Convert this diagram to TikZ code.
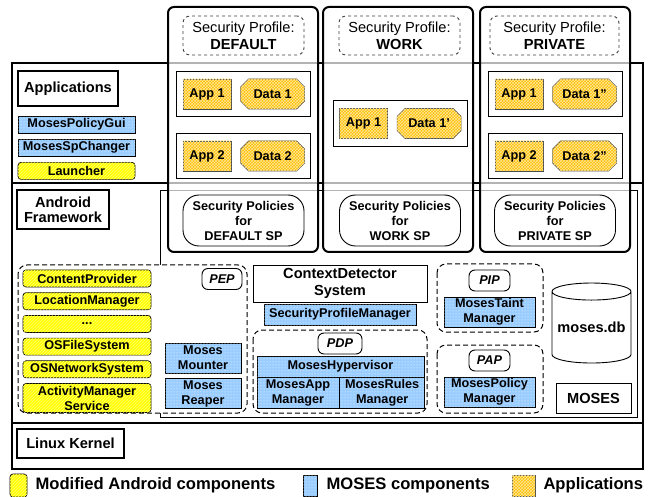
\documentclass[tikz,border=0pt]{standalone}
\usepackage{fontspec}
\setmainfont{Liberation Sans}
\usetikzlibrary{positioning, fit, chains, patterns, shapes.misc, shapes.geometric}
\definecolor{modyellow}{RGB}{255,255,0}
\definecolor{mosblue}{RGB}{153,204,255}
\definecolor{appgold}{RGB}{255,192,0}

\begin{document}
\begin{tikzpicture}[x=1pt,y=-1pt,
  small/.style={font=\fontsize{12.7}{15}\selectfont\bfseries},
  big/.style={font=\fontsize{14.6}{17}\selectfont\bfseries},
  legend/.style={font=\fontsize{16.6}{20}\selectfont\bfseries, anchor=west, inner sep=0pt},
  layer/.style={draw, line width=2.5pt},
  title/.style={draw, line width=2.5pt, big, align=center, inner sep=0pt},
  profile/.style={draw, line width=2pt, rounded corners=6pt, fill=white, fill opacity=0.7},
  spname/.style={draw=black!75, dashed, line width=0.9pt, rounded corners=7pt, minimum width=121, minimum height=39,
    align=center, font=\fontsize{14.6}{17}\selectfont, inner sep=0pt},
  policy/.style={draw, line width=0.9pt, rounded corners=16pt, minimum width=121, minimum height=51, small, align=center, inner sep=0pt},
  row/.style={draw, line width=0.9pt, inner xsep=6pt, inner ysep=7.5pt},
  app/.style={draw=black!70, line width=0.6pt, fill=appgold, postaction={pattern=crosshatch, pattern color=white!60!appgold},
    small, minimum width=48, minimum height=30, inner sep=0pt},
  data/.style={app, chamfered rectangle, chamfered rectangle xsep=10pt, minimum width=64},
  mod/.style={draw, line width=0.7pt, rounded corners=3pt, fill=modyellow, postaction={pattern=north east lines, pattern color=white!45!modyellow},
    small, minimum width=128, minimum height=17, inner sep=0pt, align=center},
  mos/.style={draw, line width=0.7pt, fill=mosblue, postaction={pattern=dots, pattern color=white}, small, inner sep=0pt, align=center},
  group/.style={draw, dash pattern=on 5pt off 3pt, line width=1pt, rounded corners=9pt, fill=white},
  tag/.style={draw, line width=0.9pt, rounded corners=6pt, font=\fontsize{12.7}{15}\selectfont\bfseries\itshape, minimum height=21, inner sep=0pt},
  plain/.style={draw, line width=0.9pt, big, align=center, inner sep=0pt},
]
\useasboundingbox (0,0) rectangle (659,497);

% layers
\draw[layer] (12,63) rectangle (643,183);
\draw[layer] (12,183) rectangle (643,423);
\draw[layer] (12,423) rectangle (643,469);
\draw[line width=0.8pt] (160,190) rectangle (637,417);

% security profiles
\draw[profile] (168,7) rectangle (318,252);
\draw[profile] (323,7) rectangle (473,252);
\draw[profile] (480,7) rectangle (630,252);

\node (spdef)  [spname] at (243.5,35.5) {Security Profile:\\\textbf{DEFAULT}};
\node (spwork) [spname] at (399.5,35.5) {Security Profile:\\\textbf{WORK}};
\node (sppriv) [spname, minimum width=129] at (554.5,35.5) {Security Profile:\\\textbf{PRIVATE}};

\node (appd1) [app] at (207,94) {App 1};
\node (datad1) [data, right=9pt of appd1] {Data 1};
\node (rowd1) [row, fit=(appd1)(datad1)] {};
\node (appd2) [app] at (207,156) {App 2};
\node (datad2) [data, right=9pt of appd2] {Data 2};
\node (rowd2) [row, fit=(appd2)(datad2)] {};

\node (appw1) [app] at (363.5,123.5) {App 1};
\node (dataw1) [data, right=9pt of appw1] {Data 1'};
\node (roww1) [row, fit=(appw1)(dataw1)] {};

\node (appp1) [app] at (519,94) {App 1};
\node (datap1) [data, right=9pt of appp1] {Data 1''};
\node (rowp1) [row, fit=(appp1)(datap1)] {};
\node (appp2) [app] at (519,156) {App 2};
\node (datap2) [data, right=9pt of appp2] {Data 2''};
\node (rowp2) [row, fit=(appp2)(datap2)] {};

\node (poldef)  [policy] at (243.5,220.5) {Security Policies\\for\\DEFAULT SP};
\node (polwork) [policy] at (400,220.5)   {Security Policies\\for\\WORK SP};
\node (polpriv) [policy] at (555,220.5)   {Security Policies\\for\\PRIVATE SP};

% layer titles
\node (applications) [title, minimum width=100, minimum height=35] at (68,88.5) {Applications};
\node (framework) [title, minimum width=92, minimum height=39] at (63,209.5) {Android\\[-2pt]Framework};
\node (kernel) [title, minimum width=107, minimum height=29] at (70.5,443.5) {Linux Kernel};

\begin{scope}[start chain=apps going below, node distance=5.5pt]
\node (policygui) [mos, on chain, minimum width=117, minimum height=17] at (76.5,124.5) {MosesPolicyGui};
\node (spchanger) [mos, on chain, minimum width=117, minimum height=17] {MosesSpChanger};
\node (launcher)  [mod, on chain, minimum width=117] {Launcher};
\end{scope}

% PEP
\draw[group] (18,265) rectangle (247,413);
\node (pep) [tag, minimum width=40] at (222,279) {PEP};
\begin{scope}[start chain=mods going below, node distance=5pt]
\node (content)  [mod, on chain] at (87,278.5) {ContentProvider};
\node (location) [mod, on chain] {LocationManager};
\node (dots)     [mod, on chain] {...};
\node (osfile)   [mod, on chain] {OSFileSystem};
\node (osnet)    [mod, on chain] {OSNetworkSystem};
\node (activity) [mod, on chain, minimum height=29] {ActivityManager\\Service};
\end{scope}
\node (mounter) [mos, minimum width=76, minimum height=30] at (203,358) {Moses\\Mounter};
\node (reaper)  [mos, minimum width=76, minimum height=30, below=5pt of mounter] {Moses\\Reaper};

% context detector and PDP
\node (context) [plain, minimum width=174, minimum height=37] at (340,283.5) {ContextDetector\\System};
\node (spmanager) [mos, minimum width=152, minimum height=21] at (340,314.5) {SecurityProfileManager};
\draw[group] (253,330) rectangle (427,413);
\node (pdp) [tag, minimum width=44] at (340,343.5) {PDP};
\node (hypervisor) [mos, minimum width=167, minimum height=21] at (340.5,366.5) {MosesHypervisor};
\node (appmanager) [mos, minimum width=82, minimum height=31, below right=0pt and 0pt of hypervisor.south west, anchor=north west] {MosesApp\\Manager};
\node (rulesmanager) [mos, minimum width=85, minimum height=31, right=0pt of appmanager] {MosesRules\\Manager};

% PIP and PAP
\draw[group] (437,264) rectangle (543,332);
\node (pip) [tag, minimum width=41] at (489.5,280.5) {PIP};
\node (taint) [mos, minimum width=91, minimum height=30] at (489.5,312) {MosesTaint\\Manager};
\draw[group] (437,345) rectangle (543,413);
\node (pap) [tag, minimum width=41] at (489.5,360.5) {PAP};
\node (policymanager) [mos, minimum width=91, minimum height=30] at (489.5,392) {MosesPolicy\\Manager};

% storage
\node (db) [cylinder, shape border rotate=90, aspect=0.25, draw, line width=0.9pt, big, minimum width=79, minimum height=80, inner sep=0pt] at (591.5,327.5) {moses.db};
\node (moses) [plain, minimum width=75, minimum height=30] at (593.5,398) {MOSES};

% legend
\node (swmod) [mod, minimum width=17, minimum height=23] at (18.5,485.5) {};
\node (lgmod) [legend, right=8pt of swmod] {Modified Android components};
\node (swmos) [mos, minimum width=14, minimum height=21] at (310,485.5) {};
\node (lgmos) [legend, right=9pt of swmos] {MOSES components};
\node (swapp) [app, minimum width=23, minimum height=21] at (523.5,485.5) {};
\node (lgapp) [legend, right=8pt of swapp] {Applications};
\end{tikzpicture}
\end{document}
